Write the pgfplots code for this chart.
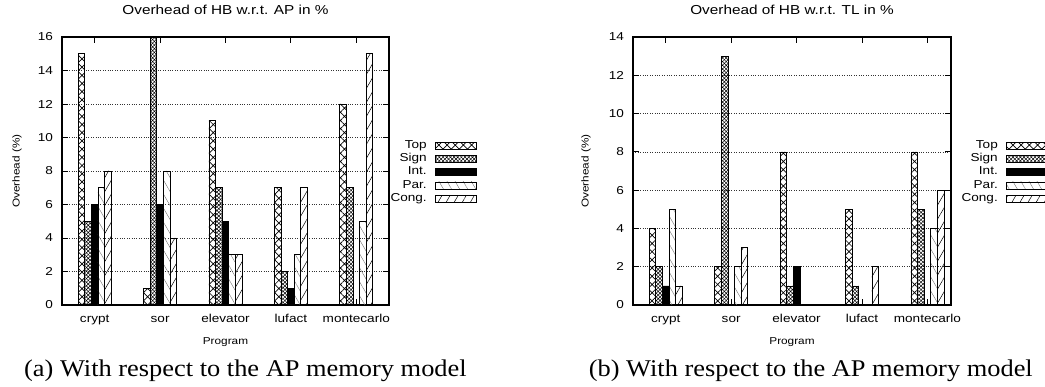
\documentclass[border=0pt]{standalone}
\usepackage{fontspec}
\setmainfont{Liberation Serif}[FakeStretch=1.1]
\newfontfamily\chartfont{Liberation Sans}[FakeStretch=1.18]
\usepackage{pgfplots}
\pgfplotsset{compat=1.18}
\usetikzlibrary{patterns.meta}

\pgfplotsset{
  hbstyle/.style={
    scale only axis, height=268pt,
    ybar=0pt, bar width=6.6pt,
    ymin=0, xmin=-0.5,
    xtick={0,...,4}, xticklabels={crypt,sor,elevator,lufact,montecarlo},
    tick align=inside, major tick length=6pt,
    axis line style={line width=1.2pt},
    every tick/.style={black, line width=0.8pt},
    ymajorgrids, grid style={dotted, black!80, line width=0.7pt},
    /pgf/number format/assume math mode=true,
    tick label style={font=\chartfont\fontsize{11.5}{13}\selectfont},
    xticklabel style={anchor=base, yshift=-17.7pt},
    yticklabel style={anchor=east, inner sep=0pt, xshift=-8.8pt},
    title style={font=\chartfont\fontsize{13}{15}\selectfont, at={(axis description cs:0.5,1.061)}, anchor=base},
    xlabel style={font=\chartfont\fontsize{10}{12}\selectfont, at={(axis description cs:0.5,-0.149)}, anchor=base},
    xlabel={Program}, ylabel={Overhead (\%)},
    legend image code/.code={\draw[#1] (0pt,-3.5pt) rectangle (41pt,3.5pt);},
    legend plot pos=right, legend cell align=right,
    legend style={draw=none, fill=none, inner sep=0pt, outer sep=0pt, row sep=0pt, column sep=8.5pt,
      font=\chartfont\fontsize{11.5}{13}\selectfont,
      nodes={inner sep=0pt, text height=9.3pt, text depth=4pt}},
  },
  ptop/.style={draw=black, line width=0.7pt, pattern={Hatch[angle=45,distance=5.8pt,line width=0.7pt]}},
  psign/.style={draw=black, line width=0.7pt, pattern={Hatch[angle=45,distance=2.6pt,line width=0.5pt]}},
  pint/.style={draw=black, line width=0.7pt, fill=black},
  ppar/.style={draw=black, line width=0.7pt, pattern={Lines[angle=-60,distance=7pt,line width=0.4pt]}, pattern color=black!55},
  pcong/.style={draw=black, line width=0.7pt, pattern={Lines[angle=60,distance=7pt,line width=0.5pt]}, pattern color=black},
}

\begin{document}
\begin{tikzpicture}
\useasboundingbox (0,0) rectangle (1045pt,387pt);

\begin{axis}[hbstyle, at={(62pt,82pt)}, anchor=south west, width=327pt,
  xmax=4.5, ymax=16, ytick={0,2,...,16},
  title={Overhead of HB w.r.t. AP in \%},
  ylabel style={font=\chartfont\fontsize{10}{12}\selectfont, at={(axis description cs:-0.1376,0.5)}, anchor=center},
  legend style={at={(axis description cs:1.269,0.6198)}, anchor=north east}]
\addplot[ptop]  coordinates {(0,15) (1,1) (2,11) (3,7) (4,12)};
\addplot[psign] coordinates {(0,5) (1,16) (2,7) (3,2) (4,7)};
\addplot[pint]  coordinates {(0,6) (1,6) (2,5) (3,1) (4,0)};
\addplot[ppar]  coordinates {(0,7) (1,8) (2,3) (3,3) (4,5)};
\addplot[pcong] coordinates {(0,8) (1,4) (2,3) (3,7) (4,15)};
\legend{Top,Sign,Int.,Par.,Cong.}
\end{axis}

\begin{axis}[hbstyle, at={(633pt,82pt)}, anchor=south west, width=318pt,
  xmax=4.36, ymax=14, ytick={0,2,...,14},
  title={Overhead of HB w.r.t. TL in \%},
  ylabel style={font=\chartfont\fontsize{10}{12}\selectfont, at={(axis description cs:-0.1478,0.5)}, anchor=center},
  legend style={at={(axis description cs:1.305,0.6198)}, anchor=north east}]
\addplot[ptop]  coordinates {(0,4) (1,2) (2,8) (3,5) (4,8)};
\addplot[psign] coordinates {(0,2) (1,13) (2,1) (3,1) (4,5)};
\addplot[pint]  coordinates {(0,1) (1,0) (2,2) (3,0) (4,0)};
\addplot[ppar]  coordinates {(0,5) (1,2) (2,0) (3,0) (4,4)};
\addplot[pcong] coordinates {(0,1) (1,3) (2,0) (3,2) (4,6)};
\legend{Top,Sign,Int.,Par.,Cong.}
\end{axis}

\node[anchor=base west, inner sep=0pt, font=\fontsize{24}{28}\selectfont] at (24pt,10pt) {(a) With respect to the AP memory model};
\node[anchor=base east, inner sep=0pt, font=\fontsize{24}{28}\selectfont] at (1033pt,10pt) {(b) With respect to the AP memory model};
\end{tikzpicture}
\end{document}
